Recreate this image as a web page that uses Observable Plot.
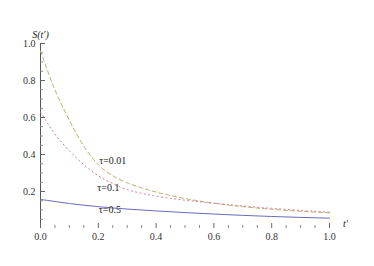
<!DOCTYPE html>
<html>
<head>
<meta charset="utf-8">
<script src="https://cdn.jsdelivr.net/npm/d3@7"></script>
<script src="https://cdn.jsdelivr.net/npm/@observablehq/plot@0.6"></script>
<style>
  html, body { margin: 0; padding: 0; background: #fff; }
  #chart { width: 374px; height: 266px; }
</style>
</head>
<body>
<div id="chart"></div>
<script>
// t' sample positions
const tVals = [0, 0.05, 0.1, 0.15, 0.2, 0.25, 0.3, 0.35, 0.4, 0.5, 0.6, 0.7, 0.8, 0.9, 1.0];
// S(t') for each tau
const sTau001 = [0.96, 0.75, 0.585, 0.445, 0.345, 0.285, 0.247, 0.22, 0.197, 0.162, 0.137, 0.118, 0.104, 0.093, 0.085];
const sTau01  = [0.63, 0.51, 0.42, 0.345, 0.285, 0.243, 0.21, 0.19, 0.175, 0.153, 0.136, 0.122, 0.109, 0.098, 0.088];
const sTau05  = [0.157, 0.146, 0.135, 0.126, 0.118, 0.111, 0.105, 0.10, 0.095, 0.086, 0.078, 0.071, 0.065, 0.06, 0.056];

const seriesNames = ["τ=0.01", "τ=0.1", "τ=0.5"];
const seriesValues = [sTau001, sTau01, sTau05];

// curve labels (position in data units)
const labelText = ["τ=0.01", "τ=0.1", "τ=0.5"];
const labelX = [0.25, 0.235, 0.24];
const labelY = [0.365, 0.218, 0.103];

// ticks
const xMajor = [0, 0.2, 0.4, 0.6, 0.8, 1.0];
const xMinor = [0.05, 0.1, 0.15, 0.25, 0.3, 0.35, 0.45, 0.5, 0.55, 0.65, 0.7, 0.75, 0.85, 0.9, 0.95];
const yMajor = [0.2, 0.4, 0.6, 0.8, 1.0];
const yMinor = [0.05, 0.1, 0.15, 0.25, 0.3, 0.35, 0.45, 0.5, 0.55, 0.65, 0.7, 0.75, 0.85, 0.9, 0.95];

const rows = [];
seriesNames.forEach((name, i) => {
  tVals.forEach((t, j) => rows.push({series: name, t, s: seriesValues[i][j]}));
});
const labels = labelText.map((text, i) => ({text, x: labelX[i], y: labelY[i]}));

const colors = {"τ=0.01": "#bfae6c", "τ=0.1": "#cf7ba0", "τ=0.5": "#6a6abd"};
const dashes = {"τ=0.01": "4,3", "τ=0.1": "1.2,3.2", "τ=0.5": null};

const font = "'Liberation Serif', 'Times New Roman', serif";

const plot = Plot.plot({
  width: 374,
  height: 266,
  marginLeft: 40,
  marginRight: 45,
  marginTop: 43,
  marginBottom: 38,
  style: {fontFamily: font, fontSize: "10px", background: "#fff", color: "#333"},
  x: {domain: [0, 1]},
  y: {domain: [0, 1]},
  marks: [
    // y axis line
    Plot.ruleX([0], {stroke: "#555", strokeWidth: 1}),
    // x ticks (inward)
    Plot.axisX(xMajor, {tickSize: -5, tickFormat: () => "", stroke: "#666"}),
    Plot.axisX(xMinor, {tickSize: -3, tickFormat: () => "", stroke: "#888"}),
    Plot.axisX(xMajor, {tickSize: 0, tickPadding: 4, tickFormat: d3.format(".1f"), fill: "#333", fontSize: 10, fontFamily: font, label: null}),
    // y ticks (inward)
    Plot.axisY(yMajor, {tickSize: -5, tickFormat: () => "", stroke: "#666"}),
    Plot.axisY(yMinor, {tickSize: -3, tickFormat: () => "", stroke: "#888"}),
    Plot.axisY(yMajor, {tickSize: 0, tickPadding: 5, tickFormat: d3.format(".1f"), fill: "#333", fontSize: 10, fontFamily: font, label: null}),
    // curves
    ...seriesNames.map(name => Plot.line(rows.filter(r => r.series === name), {
      x: "t", y: "s", stroke: colors[name], strokeWidth: 1,
      strokeDasharray: dashes[name], curve: "monotone-x"
    })),
    // curve labels
    Plot.text(labels, {x: "x", y: "y", text: "text", fill: "#222", fontSize: 10, fontFamily: font, textAnchor: "middle"}),
    // axis labels
    Plot.text(["S(t′)"], {frameAnchor: "top-left", dy: -13, text: d => d, fontStyle: "italic", fontFamily: font, fill: "#222", fontSize: 10, textAnchor: "middle"}),
    Plot.text(["t′"], {frameAnchor: "bottom-right", dx: 16, dy: -2, text: d => d, fontStyle: "italic", fontFamily: font, fill: "#222", fontSize: 10, textAnchor: "middle"})
  ]
});
document.getElementById("chart").appendChild(plot);
</script>
</body>
</html>
